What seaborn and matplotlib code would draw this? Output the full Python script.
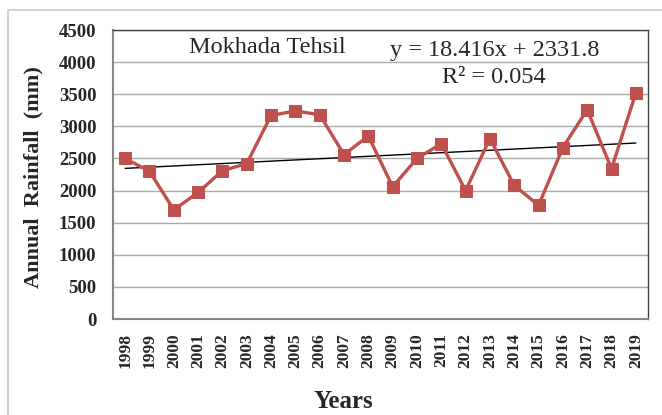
import numpy as np
import pandas as pd
import seaborn as sns
import matplotlib.pyplot as plt
from matplotlib.patches import Rectangle

## Annual rainfall values
years = [1998, 1999, 2000, 2001, 2002, 2003, 2004, 2005, 2006, 2007, 2008,
         2009, 2010, 2011, 2012, 2013, 2014, 2015, 2016, 2017, 2018, 2019]
rainfall = [2500, 2300, 1700, 1970, 2310, 2420, 3170, 3240, 3180, 2560, 2850,
            2060, 2500, 2730, 2000, 2810, 2080, 1770, 2670, 3260, 2340, 3520]
y_ticks = [0, 500, 1000, 1500, 2000, 2500, 3000, 3500, 4000, 4500]
title_text = 'Mokhada Tehsil'
eq_text = 'y = 18.416x + 2331.8'
r2_text = 'R² = 0.054'

df = pd.DataFrame({'year': years, 'rain': rainfall})
df['idx'] = np.arange(1, len(df) + 1)

## linear trend over the series index (Excel style)
slope, icpt = np.polyfit(df['idx'], df['rain'], 1)
df['trend'] = slope * df['idx'] + icpt

sns.set_style('white')
plt.rcParams['font.family'] = ['Liberation Serif', 'DejaVu Serif']

fig = plt.figure(figsize=(6.62, 4.15), dpi=100)
ax = fig.add_axes([113 / 662, 1 - 319 / 415, (648 - 113) / 662, (319 - 30) / 415])

## outer chart frame
fig.patches.append(Rectangle((8 / 662, -0.1), 1.2, 1 - 10 / 415 + 0.1, transform=fig.transFigure,
                             fill=False, edgecolor='#c8c8c8', linewidth=1.2, zorder=0))

for t in y_ticks[1:]:
    ax.axhline(t, color='#aaaaaa', linewidth=1, zorder=1)

sns.lineplot(data=df, x='idx', y='trend', ax=ax, color='black', linewidth=1, zorder=3)
sns.lineplot(data=df, x='idx', y='rain', ax=ax, color='#c0504d', linewidth=2.4,
             marker='s', markersize=8, markeredgecolor='#c0504d', zorder=4)

ax.set_xlim(0.5, len(df) + 0.5)
ax.set_ylim(0, 4500)
ax.set_yticks(y_ticks)
ax.set_yticklabels([str(v) for v in y_ticks], fontsize=13.5, fontweight='bold')
ax.set_xticks(df['idx'])
ax.set_xticklabels([str(y) for y in years], rotation=90, fontsize=12.5, fontweight='bold')
ax.tick_params(axis='x', direction='out', length=5, width=1, color='#868686', pad=5)
ax.tick_params(axis='y', direction='out', length=5, width=1, color='#868686', pad=7)

for side in ['left', 'bottom']:
    ax.spines[side].set_color('#868686')
    ax.spines[side].set_linewidth(1.5)
for side in ['top', 'right']:
    ax.spines[side].set_color('#404040')
    ax.spines[side].set_linewidth(1)

ax.set_xlabel('Years', fontsize=18, fontweight='bold')
ax.xaxis.set_label_coords((343 - 113) / 535, -(402 - 319) / 289)
ax.xaxis.label.set_verticalalignment('center')
ax.set_ylabel('Annual  Rainfall  (mm)', fontsize=16, fontweight='bold')
ax.yaxis.set_label_coords(-(113 - 33) / 535, (319 - 177) / 289)
ax.yaxis.label.set_verticalalignment('center')

ax.text((267 - 113) / 535, (319 - 47) / 289, title_text, transform=ax.transAxes,
        ha='center', va='center', fontsize=17.5)
ax.text((495 - 113) / 535, (319 - 50) / 289, eq_text, transform=ax.transAxes,
        ha='center', va='center', fontsize=17.5)
ax.text((494 - 113) / 535, (319 - 77) / 289, r2_text, transform=ax.transAxes,
        ha='center', va='center', fontsize=17.5)

fig.savefig('out.png', dpi=100)
